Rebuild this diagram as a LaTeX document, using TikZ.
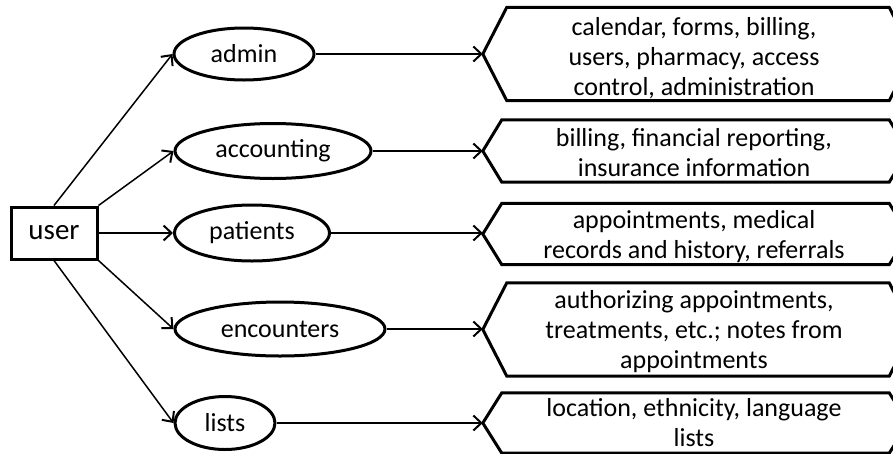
\documentclass[tikz,border=0pt]{standalone}
\usepackage{fontspec}
\setmainfont{Carlito}
\usetikzlibrary{arrows.meta,calc,shapes.geometric}

\tikzset{
  oval/.style={ellipse, draw, line width=3pt, inner sep=0pt,
    font=\fontsize{26}{30}\selectfont},
  userbox/.style={rectangle, draw, line width=3pt, minimum width=86pt,
    minimum height=52pt, font=\fontsize{29}{32}\selectfont},
  infobox/.style={rectangle, inner sep=0pt},
  infotext/.style={inner sep=0pt, align=center,
    font=\fontsize{26}{30}\selectfont},
  link/.style={line width=1.5pt,
    -{Straight Barb[length=8pt,width=15pt,line width=2pt]}},
  hexline/.style={line width=3pt, line join=miter}
}

% hexagonal outline around a named box; #2 is the depth of the side points
\newcommand\hexoutline[2]{%
  \draw[hexline] (#1.west) -- ($(#1.north west)+(#2,0)$)
    -- ($(#1.north east)+(-#2,0)$) -- (#1.east)
    -- ($(#1.south east)+(-#2,0)$) -- ($(#1.south west)+(#2,0)$) -- cycle;}

\begin{document}
\begin{tikzpicture}[x=1pt,y=-1pt]
  \useasboundingbox (0,0) rectangle (893,453);
  \clip (0,0) rectangle (893,453);

  \node[userbox] (user) at (54,233) {user};

  \node[oval, minimum width=140pt, minimum height=52pt] (admin) at (244,54) {admin};
  \node[oval, minimum width=196pt, minimum height=55pt] (acc) at (273,151) {accounting};
  \node[oval, minimum width=155pt, minimum height=56pt] (pat) at (252,233) {patients};
  \node[oval, minimum width=210pt, minimum height=54pt] (enc) at (280,329) {encounters};
  \node[oval, minimum width=100pt, minimum height=53pt] (lists) at (225,423) {lists};

  % outline boxes of the description hexagons
  \node[infobox, minimum width=430pt, minimum height=93pt] (hadmin) at (698,54) {};
  \node[infobox, minimum width=425pt, minimum height=62pt] (hacc) at (695.5,151) {};
  \node[infobox, minimum width=425pt, minimum height=61pt] (hpat) at (695.5,234) {};
  \node[infobox, minimum width=430pt, minimum height=93pt] (henc) at (698,329.5) {};
  \node[infobox, minimum width=425pt, minimum height=60pt] (hlists) at (695.5,423) {};

  \hexoutline{hadmin}{24}
  \hexoutline{hacc}{19}
  \hexoutline{hpat}{19}
  \hexoutline{henc}{24}
  \hexoutline{hlists}{19}

  % description texts
  \node[infotext] (tadmin) at (694,58)
    {calendar, forms, billing,\\users, pharmacy, access\\control, administration};
  \node[infotext] (tacc) at (694,152.5)
    {billing, financial reporting,\\insurance information};
  \node[infotext] (tpat) at (694,236.5)
    {appointments, medical\\records and history, referrals};
  \node[infotext] (tenc) at (694,332)
    {authorizing appointments,\\treatments, etc.; notes from\\appointments};
  \node[infotext] (tlists) at (694,423)
    {location, ethnicity, language\\lists};

  \draw[link] (user.north) -- (admin.west);
  \draw[link] (user.north east) -- (acc.west);
  \draw[link] (user.east) -- (pat.west);
  \draw[link] (user.south east) -- (enc.west);
  \draw[link] (user.south) -- (lists.west);

  \draw[link] (admin.east) -- (admin -| hadmin.west);
  \draw[link] (acc.east) -- (acc -| hacc.west);
  \draw[link] (pat.east) -- (pat -| hpat.west);
  \draw[link] (enc.east) -- (enc -| henc.west);
  \draw[link] (lists.east) -- (lists -| hlists.west);
\end{tikzpicture}
\end{document}
